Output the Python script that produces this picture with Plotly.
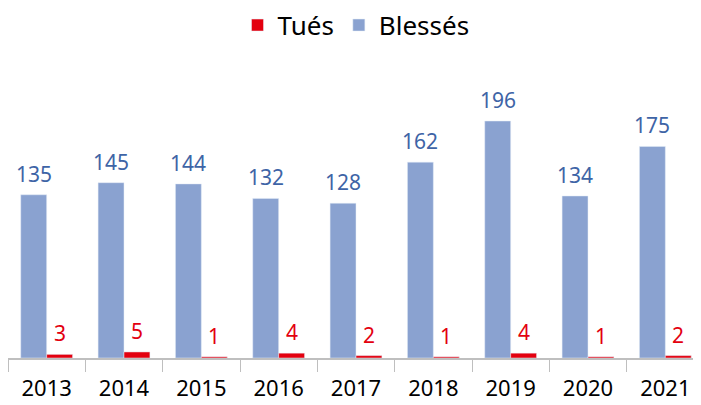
import plotly.graph_objects as go

years = ["2013", "2014", "2015", "2016", "2017", "2018", "2019", "2020", "2021"]
blesses = [135, 145, 144, 132, 128, 162, 196, 134, 175]
tues = [3, 5, 1, 4, 2, 1, 4, 1, 2]

BLUE = "#8AA2D0"
BLUE_TXT = "#3E64A6"
RED = "#E3000F"
FONT = "Noto Sans"

fig = go.Figure()
fig.add_trace(go.Bar(name="Blessés", x=years, y=blesses, marker_color=BLUE))
fig.add_trace(go.Bar(name="Tués", x=years, y=tues, marker_color=RED))

annotations = []
for i, (b, t) in enumerate(zip(blesses, tues)):
    annotations.append(dict(x=i, y=b, xref="x", yref="y", text=str(b), showarrow=False,
                            yanchor="bottom", xshift=-13, yshift=5,
                            font=dict(family=FONT, size=21, color=BLUE_TXT)))
    annotations.append(dict(x=i, y=t, xref="x", yref="y", text=str(t), showarrow=False,
                            yanchor="bottom", xshift=13, yshift=5,
                            font=dict(family=FONT, size=21, color=RED)))

fig.update_layout(
    width=701, height=405,
    margin=dict(l=0, r=5, t=10, b=55, autoexpand=False),
    barmode="group", bargap=0.33, bargroupgap=0,
    plot_bgcolor="white", paper_bgcolor="white",
    font=dict(family=FONT, size=20, color="#000000"),
    legend=dict(orientation="h", x=0.5, xanchor="center", y=0.979, yanchor="middle",
                traceorder="reversed", font=dict(size=26, color="#000000")),
    annotations=annotations,
    showlegend=True,
)
fig.update_xaxes(type="category", range=[-0.5, 8.5], showline=True, linecolor="#BFBFBF",
                 linewidth=1.5, ticks="outside", tickson="boundaries", ticklen=12,
                 tickcolor="#BFBFBF", tickfont=dict(size=22, color="#000000"), showgrid=False,
                 automargin=False, ticklabelstandoff=10)
fig.update_yaxes(range=[0, 281.2], visible=False, showgrid=False)

fig.write_html("out.html")
